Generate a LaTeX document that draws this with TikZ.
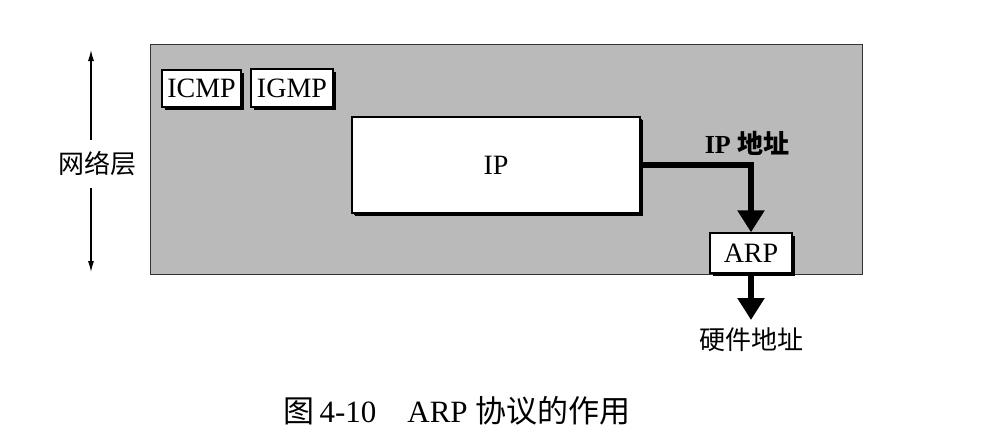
\documentclass[tikz,border=0pt]{standalone}
\usepackage{fontspec}
\setmainfont{Liberation Serif}
\newfontfamily\cjk{Noto Sans CJK SC}
\usetikzlibrary{arrows.meta,shadows}

\begin{document}
\begin{tikzpicture}[
  x=1pt,
  y=-1pt,
  layerbox/.style={fill=black!27,draw=black!80,line width=1pt},
  proto/.style={draw=black,fill=white,line width=1.4pt,inner sep=0pt,
    font=\fontsize{28}{28}\selectfont,
    drop shadow={shadow xshift=3pt,shadow yshift=-3pt,fill=black,opacity=1}},
  flow/.style={line width=6pt,-{Triangle[length=22pt,width=26pt]}},
  span/.style={line width=1.1pt,-{Latex[length=11pt,width=6pt]}},
  lab/.style={font=\cjk\fontsize{26}{26}\selectfont,inner sep=0pt},
  tag/.style={font=\bfseries\fontsize{26}{26}\selectfont,inner sep=0pt}
]
\useasboundingbox (0,0) rectangle (991,447);

% network layer
\path[layerbox] (150,44) rectangle (862,274);

\node[proto,minimum width=79pt,minimum height=37pt] (icmp) at (201.5,88.5) {ICMP};
\node[proto,minimum width=82pt,minimum height=38pt] (igmp) at (292,88) {IGMP};
\node[proto,minimum width=288pt,minimum height=96pt,
  drop shadow={shadow xshift=2pt,shadow yshift=-2pt,fill=black,opacity=1}] (ip) at (496,165) {IP};
\node[proto,minimum width=82pt,minimum height=40pt] (arp) at (751,253) {ARP};

% address flow
\draw[flow] (ip.east) -- (ip.east -| arp.north) -- (arp.north);
\node[tag] (ipaddr) at (747,143) {IP {\cjk 地址}};

\coordinate (hwtip) at (751,320);
\draw[flow] (arp.south) -- (hwtip);
\node[lab] (hwaddr) at (751,340) {硬件地址};

% layer span
\coordinate (ltop) at (91,50);
\coordinate (lbot) at (91,272);
\node[lab] (netlayer) at (97,164) {网络层};
\draw[span] (netlayer.north -| ltop) ++(0,-12) -- (ltop);
\draw[span] (netlayer.south -| lbot) ++(0,12) -- (lbot);

\node[font=\fontsize{31}{31}\selectfont] (caption) at (457,411)
  {{\cjk 图}\,4-10\quad ARP {\cjk 协议的作用}};
\end{tikzpicture}
\end{document}
